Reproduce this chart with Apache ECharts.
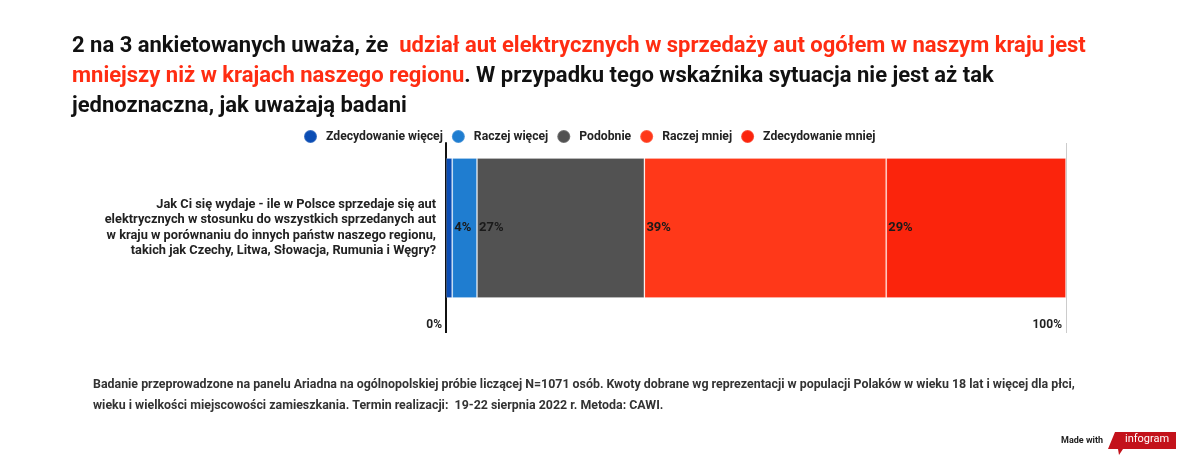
<!DOCTYPE html>
<html>
<head>
<meta charset="utf-8">
<script src="https://cdn.jsdelivr.net/npm/echarts@6/dist/echarts.min.js"></script>
<style>
  html, body { margin: 0; padding: 0; background: #fff; }
  #chart { width: 1200px; height: 466px; }
</style>
</head>
<body>
<div id="chart"></div>
<script>
// dane z wykresu
const categories = [
  'Jak Ci się wydaje - ile w Polsce sprzedaje się aut\nelektrycznych w stosunku do wszystkich sprzedanych aut\nw kraju w porównaniu do innych państw naszego regionu,\ntakich jak Czechy, Litwa, Słowacja, Rumunia i Węgry?'
];
const seriesNames = ['Zdecydowanie więcej', 'Raczej więcej', 'Podobnie', 'Raczej mniej', 'Zdecydowanie mniej'];
const values = [1, 4, 27, 39, 29];
const colors = ['#0b4db4', '#1f7dd0', '#525252', '#ff3819', '#fb240c'];
const tickLabels = { 0: '0%', 100: '100%' };

const font = 'Roboto, "Noto Sans", sans-serif';

const chart = echarts.init(document.getElementById('chart'));

const series = seriesNames.map((name, i) => ({
  name: name,
  type: 'bar',
  stack: 'total',
  barWidth: 140,
  data: [values[i]],
  itemStyle: {
    color: colors[i],
    borderColor: 'rgba(255,255,255,0.18)',
    borderWidth: 1
  },
  label: {
    show: true,
    position: 'insideLeft',
    distance: 2,
    fontFamily: font,
    fontSize: 13,
    fontWeight: 'bold',
    color: '#1a1a1a',
    // za waskie segmenty bez etykiety
    formatter: p => (p.value >= 2 ? p.value + '%' : '')
  },
  emphasis: { disabled: true }
}));

const option = {
  backgroundColor: '#ffffff',
  animation: false,
  textStyle: { fontFamily: font },
  title: [{
    left: 67,
    top: 26,
    text: '{b|2 na 3 ankietowanych uważa, że  }{r|udział aut elektrycznych w sprzedaży aut ogółem w naszym kraju jest}\n' +
          '{r|mniejszy niż w krajach naszego regionu}{b|. W przypadku tego wskaźnika sytuacja nie jest aż tak}\n' +
          '{b|jednoznaczna, jak uważają badani}',
    textStyle: {
      fontFamily: font,
      fontSize: 22,
      fontWeight: 'bold',
      lineHeight: 30,
      rich: {
        b: { fontFamily: font, fontSize: 22, fontWeight: 'bold', color: '#111111', lineHeight: 30 },
        r: { fontFamily: font, fontSize: 22, fontWeight: 'bold', color: '#ff2d12', lineHeight: 30 }
      }
    }
  }, {
    left: 88,
    top: 369,
    text: 'Badanie przeprowadzone na panelu Ariadna na ogólnopolskiej próbie liczącej N=1071 osób. Kwoty dobrane wg reprezentacji w populacji Polaków w wieku 18 lat i więcej dla płci,\n' +
          'wieku i wielkości miejscowości zamieszkania. Termin realizacji:  19-22 sierpnia 2022 r. Metoda: CAWI.',
    textStyle: {
      fontFamily: font,
      fontSize: 12.4,
      fontWeight: 'bold',
      color: '#333333',
      lineHeight: 21
    }
  }],
  legend: {
    left: 298,
    top: 124,
    icon: 'circle',
    itemWidth: 13,
    itemHeight: 13,
    itemGap: 8,
    selectedMode: false,
    data: seriesNames,
    textStyle: {
      fontFamily: font,
      fontSize: 12.2,
      fontWeight: 'bold',
      color: '#222222',
      padding: [0, 0, 0, 4]
    }
  },
  grid: {
    left: 446,
    right: 134,
    top: 143,
    bottom: 153,
    containLabel: false
  },
  xAxis: [{
    type: 'value',
    min: 0,
    max: 100,
    interval: 100,
    axisLine: { show: false },
    axisTick: {
      show: true,
      customValues: [100],
      length: 20,
      lineStyle: { color: '#cccccc', width: 1 }
    },
    splitLine: { show: true, lineStyle: { color: '#cccccc', width: 1 } },
    axisLabel: {
      fontFamily: font,
      fontSize: 12,
      fontWeight: 'bold',
      color: '#222222',
      align: 'right',
      margin: 6,
      padding: [0, 4, 0, 0],
      formatter: v => tickLabels[v] || ''
    }
  }, {
    type: 'value',
    min: 0,
    max: 100,
    position: 'bottom',
    axisLine: { show: false },
    axisLabel: { show: false },
    splitLine: { show: false },
    axisTick: {
      show: true,
      customValues: [0],
      length: 20,
      lineStyle: { color: '#111111', width: 2 }
    }
  }],
  yAxis: {
    type: 'category',
    data: categories,
    axisLine: { show: true, lineStyle: { color: '#111111', width: 2 } },
    axisTick: { show: false },
    axisLabel: {
      margin: 10,
      fontFamily: font,
      fontSize: 12.8,
      fontWeight: 'bold',
      color: '#222222',
      lineHeight: 15.5,
      align: 'right'
    }
  },
  series: series,
  graphic: [{
    type: 'text',
    right: 97,
    top: 436,
    style: {
      text: 'Made with',
      fontFamily: font,
      fontSize: 9,
      fontWeight: 'bold',
      fill: '#222222'
    }
  }, {
    type: 'polygon',
    shape: {
      points: [[1115, 432], [1176, 432], [1176, 449], [1123, 449], [1119, 455], [1118, 449], [1108, 449]]
    },
    style: { fill: '#c3121b' }
  }, {
    type: 'text',
    left: 1125,
    top: 434,
    style: {
      text: 'infogram',
      fontFamily: font,
      fontSize: 11,
      fill: '#ffffff'
    }
  }]
};

chart.setOption(option);
</script>
</body>
</html>
